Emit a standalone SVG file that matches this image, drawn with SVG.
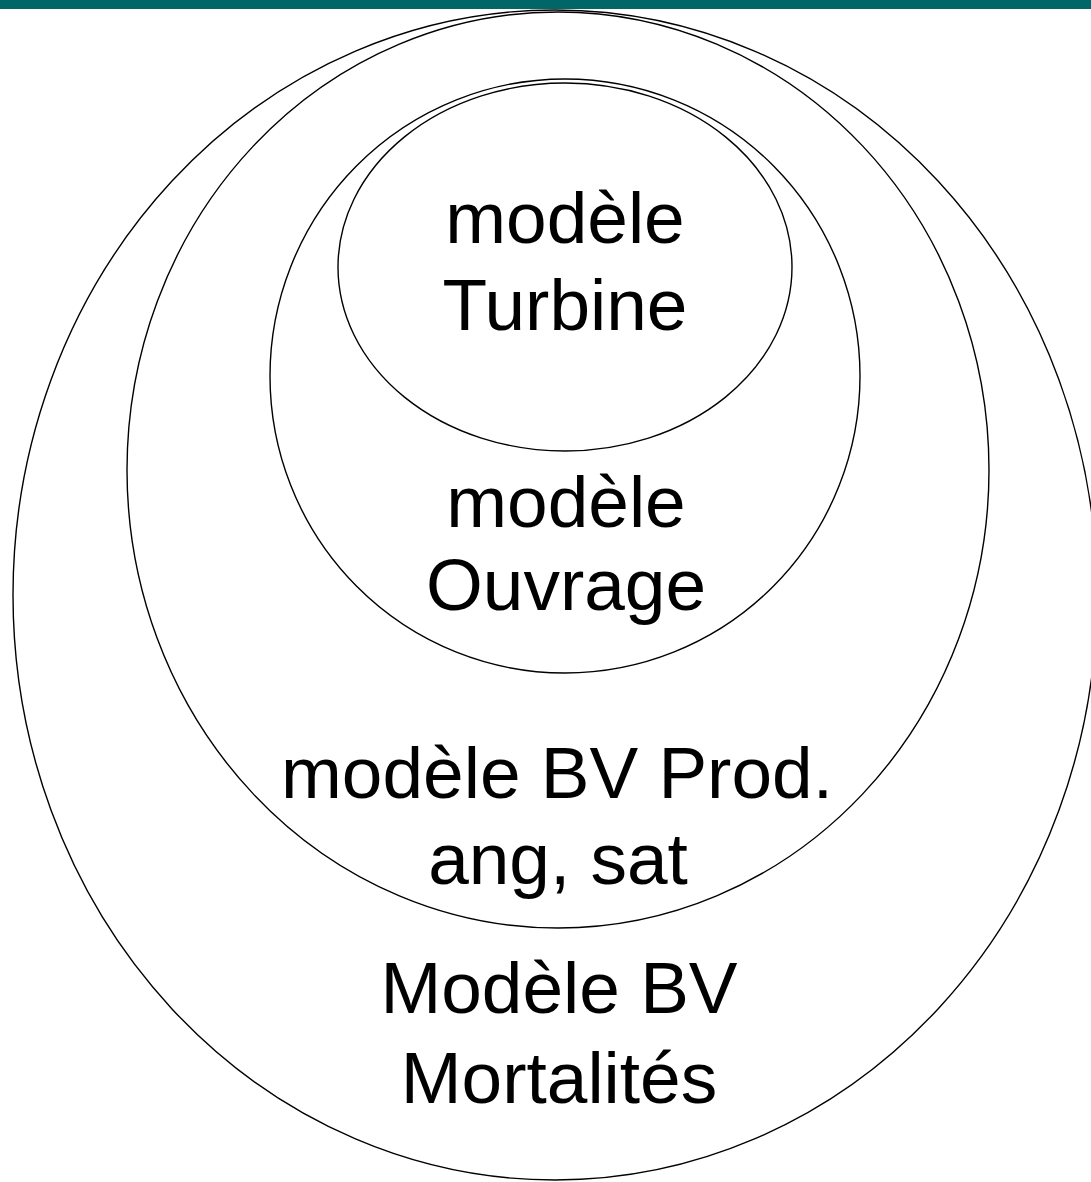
<svg xmlns="http://www.w3.org/2000/svg" width="1091" height="1182" viewBox="0 0 1091 1182">
<style>
.e{fill:none;stroke:#000;stroke-width:1.4}
.t{font-family:"Liberation Sans",Arial,sans-serif;font-size:73px;fill:#000;text-anchor:middle}
</style>
<rect width="1091" height="1182" fill="#fff"/>
<rect x="0" y="0" width="1091" height="9" fill="#006666"/>
<g id="mortalites">
<ellipse class="e" cx="555" cy="595" rx="542" ry="585"/>
<text class="t" x="559" y="1013">Modèle BV</text>
<text class="t" x="559" y="1103">Mortalités</text>
</g>
<g id="prod">
<ellipse class="e" cx="558" cy="470" rx="431" ry="458"/>
<text class="t" x="557" y="798">modèle BV Prod.</text>
<text class="t" x="558" y="884">ang, sat</text>
</g>
<g id="ouvrage">
<ellipse class="e" cx="565" cy="376" rx="295" ry="297"/>
<text class="t" x="566" y="527">modèle</text>
<text class="t" x="566" y="610">Ouvrage</text>
</g>
<g id="turbine">
<ellipse class="e" cx="565" cy="267" rx="227" ry="184"/>
<text class="t" x="565" y="243">modèle</text>
<text class="t" x="565" y="330">Turbine</text>
</g>
<g id="connectors"></g>
</svg>
